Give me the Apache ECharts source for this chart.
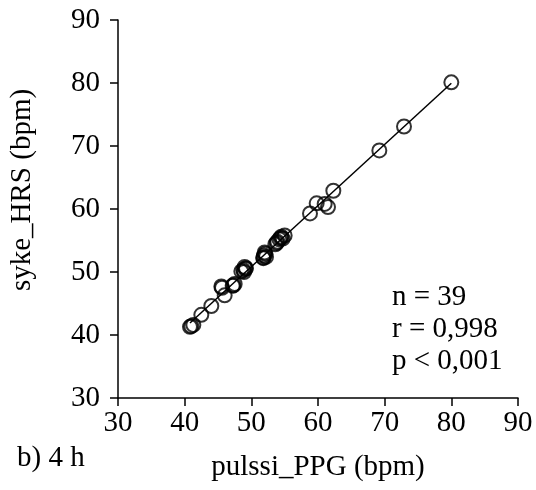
<!DOCTYPE html>
<html>
<head>
<meta charset="utf-8">
<script src="https://cdn.jsdelivr.net/npm/echarts@6/dist/echarts.min.js"></script>
<style>html,body{margin:0;padding:0;background:#fff;}#c{width:536px;height:490px;}</style>
</head>
<body>
<div id="c"></div>
<script>
var xTitle = 'pulssi_PPG (bpm)';
var yTitle = 'syke_HRS (bpm)';
var panelLabel = 'b) 4 h';
var statsLines = ['n = 39', 'r = 0,998', 'p < 0,001'];
var axisMin = 30, axisMax = 90, axisStep = 10;

var ppg = [40.8,41.3,41.0,42.5,44.0,45.5,45.6,46.0,47.2,47.3,47.5,48.5,48.8,48.9,49.0,49.1,49.2,51.8,51.8,51.9,52.0,52.1,52.2,53.6,53.8,53.9,54.2,54.4,54.5,54.7,55.0,58.8,59.8,61.0,61.5,62.3,69.2,72.9,80.0];
var hrs = [41.3,41.6,41.4,43.2,44.6,47.7,47.5,46.3,47.8,47.9,48.1,50.1,50.3,50.0,50.8,50.5,50.6,52.2,52.3,52.6,53.1,52.9,52.4,54.4,54.6,54.8,55.2,55.4,55.6,55.3,55.8,59.3,60.9,60.8,60.3,62.9,69.3,73.1,80.1];

var pts = ppg.map(function(v,i){return [v, hrs[i]];});
// least squares fit
var n = ppg.length, sx=0, sy=0, sxx=0, sxy=0;
for (var i=0;i<n;i++){sx+=ppg[i];sy+=hrs[i];sxx+=ppg[i]*ppg[i];sxy+=ppg[i]*hrs[i];}
var b = (n*sxy - sx*sy)/(n*sxx - sx*sx), a = (sy - b*sx)/n;
var xmin = Math.min.apply(null, ppg), xmax = Math.max.apply(null, ppg);
var fit = [[xmin, a + b*xmin], [xmax, a + b*xmax]];

var font = 'Liberation Serif';
var fs = 29;
var chart = echarts.init(document.getElementById('c'));
var axisCommon = {
  type: 'value', min: axisMin, max: axisMax, interval: axisStep,
  splitLine: {show: false},
  axisLine: {show: true, onZero: false, lineStyle: {color: '#000', width: 1.5}},
  axisTick: {show: true, inside: false, length: 8, lineStyle: {color: '#000', width: 1.5}},
  nameLocation: 'middle',
  nameTextStyle: {fontFamily: font, fontSize: fs, color: '#000'}
};
chart.setOption({
  animation: false,
  backgroundColor: '#fff',
  grid: {left: 118, right: 18, top: 20, bottom: 92},
  xAxis: Object.assign({}, axisCommon, {
    name: xTitle, nameGap: 55,
    axisLabel: {fontFamily: font, fontSize: fs, color: '#000', margin: 11}
  }),
  yAxis: Object.assign({}, axisCommon, {
    axisLabel: {fontFamily: font, fontSize: fs, color: '#000', margin: 18}
  }),
  graphic: [
    {type: 'text', x: 22, y: 190, rotation: Math.PI/2,
     style: {text: yTitle, fontFamily: font, fontSize: fs, fill: '#000', align: 'center', verticalAlign: 'middle'}},
    {type: 'text', left: 17, top: 444, style: {text: panelLabel, fontFamily: font, fontSize: fs, fill: '#000'}},
    {type: 'text', left: 392, top: 281, style: {text: statsLines.join('\n'), fontFamily: font, fontSize: fs, fill: '#000', lineHeight: 32}}
  ],
  series: [
    {type: 'line', data: fit, symbol: 'none', lineStyle: {color: '#000', width: 1.5}, z: 1},
    {type: 'scatter', data: pts, symbol: 'circle', symbolSize: 14,
     itemStyle: {color: 'rgba(255,255,255,0)', borderColor: '#000', borderWidth: 2}, z: 2}
  ]
});
</script>
</body>
</html>
